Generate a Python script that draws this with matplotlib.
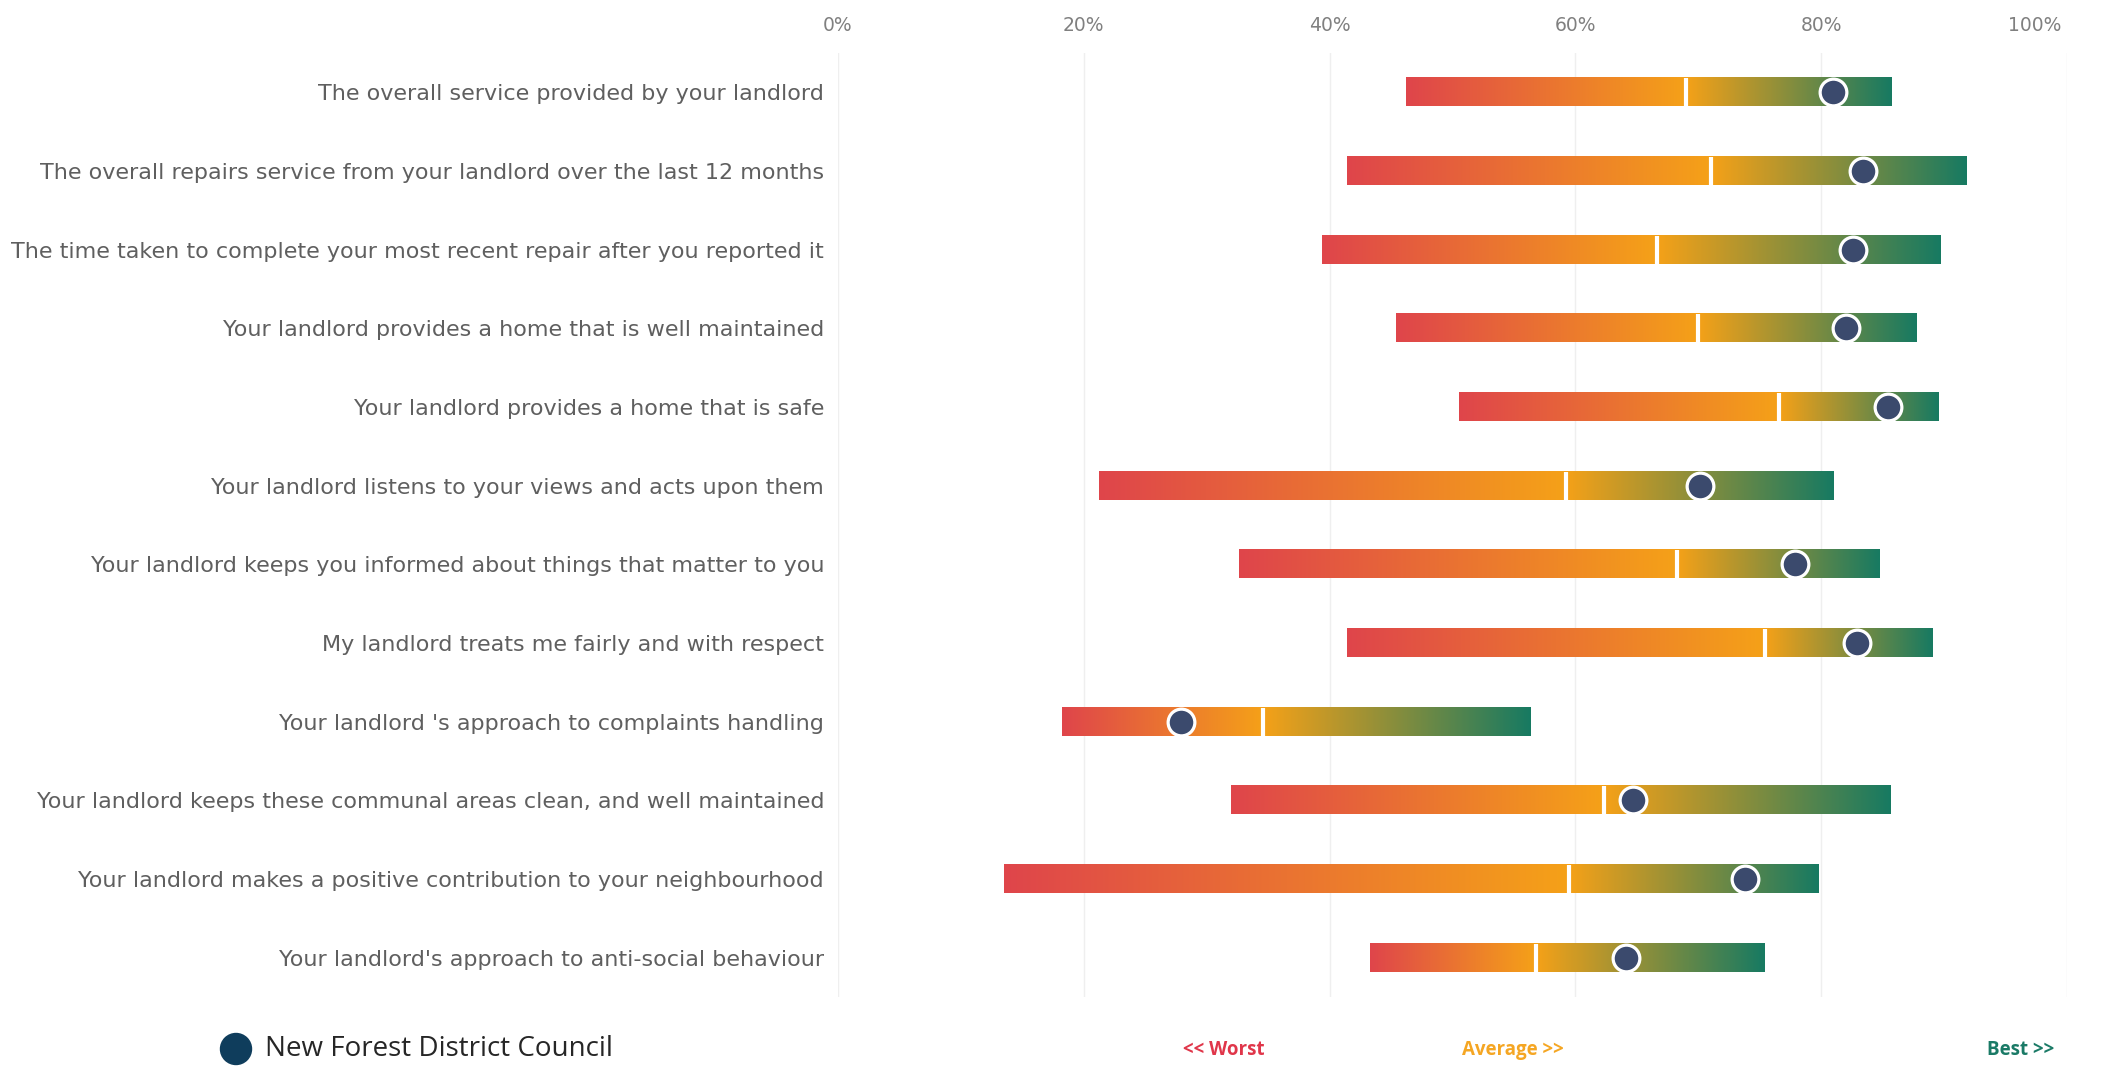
import numpy as np
import matplotlib
matplotlib.use("Agg")
import matplotlib.pyplot as plt
import matplotlib.transforms as mtransforms
from matplotlib.colors import LinearSegmentedColormap

categories = [
    "The overall service provided by your landlord",
    "The overall repairs service from your landlord over the last 12 months",
    "The time taken to complete your most recent repair after you reported it",
    "Your landlord provides a home that is well maintained",
    "Your landlord provides a home that is safe",
    "Your landlord listens to your views and acts upon them",
    "Your landlord keeps you informed about things that matter to you",
    "My landlord treats me fairly and with respect",
    "Your landlord 's approach to complaints handling",
    "Your landlord keeps these communal areas clean, and well maintained",
    "Your landlord makes a positive contribution to your neighbourhood",
    "Your landlord's approach to anti-social behaviour",
]
worst = [46.2, 41.4, 39.4, 45.4, 50.5, 21.2, 32.6, 41.4, 18.2, 32.0, 13.5, 43.3]
average = [69.0, 71.0, 66.6, 70.0, 76.6, 59.2, 68.3, 75.4, 34.6, 62.3, 59.5, 56.8]
best = [85.7, 91.8, 89.7, 87.8, 89.6, 81.0, 84.8, 89.0, 56.4, 85.6, 79.8, 75.4]
council = [81.0, 83.4, 82.6, 82.0, 85.4, 70.1, 77.9, 82.9, 27.9, 64.7, 73.8, 64.1]
xticks = [0, 20, 40, 60, 80, 100]
xticklabels = ["0%", "20%", "40%", "60%", "80%", "100%"]
legend_label = "New Forest District Council"

RED = "#df454b"
ORANGE = "#f5a118"
GREEN = "#177a62"
DOT = "#3b4a6d"

W, H = 2101, 1074
fig = plt.figure(figsize=(W / 100, H / 100), dpi=100)
left = 838 / W
right = 2067 / W
top = 1 - 53 / H
bottom = 1 - 997 / H
ax = fig.add_axes([left, bottom, right - left, top - bottom])

cmap_left = LinearSegmentedColormap.from_list("l", [RED, ORANGE])
cmap_right = LinearSegmentedColormap.from_list("r", [ORANGE, GREEN])
grad = np.linspace(0, 1, 256).reshape(1, -1)

n = len(categories)
ypos = np.arange(n)
bh = 0.36

for gx in xticks:
    ax.axvline(gx, color="#efefef", lw=1.0, zorder=0)

for i in range(n):
    y = ypos[i]
    ax.imshow(grad, cmap=cmap_left, aspect="auto",
              extent=[worst[i], average[i], y + bh / 2, y - bh / 2], zorder=2,
              interpolation="bilinear")
    ax.imshow(grad, cmap=cmap_right, aspect="auto",
              extent=[average[i], best[i], y + bh / 2, y - bh / 2], zorder=2,
              interpolation="bilinear")
    ax.plot([average[i], average[i]], [y - bh / 2, y + bh / 2],
            color="white", lw=3, zorder=3, solid_capstyle="butt")

ax.scatter(council, ypos, s=370, color=DOT, edgecolor="white",
           linewidth=2.3, zorder=5)

ax.set_xlim(0, 100)
ax.set_ylim(n - 0.5, -0.5)
ax.set_yticks(ypos)
ax.set_yticklabels(categories)
ax.set_xticks(xticks)
ax.set_xticklabels(xticklabels)
ax.xaxis.tick_top()
ax.tick_params(axis="x", length=0, pad=13, labelsize=13.5, labelcolor="#808080")
ax.tick_params(axis="y", length=0, pad=10, labelsize=16, labelcolor="#5f5f5f")
for lab in ax.get_xticklabels() + ax.get_yticklabels():
    lab.set_family("DejaVu Sans")
last = ax.get_xticklabels()[-1]
last.set_horizontalalignment("right")
last.set_transform(last.get_transform() + mtransforms.ScaledTranslation(-6 / 100, 0, fig.dpi_scale_trans))
for s in ax.spines.values():
    s.set_visible(False)

# legend
fig.patches.append(matplotlib.patches.Ellipse((236 / W, 1 - 1049 / H), 31 / W, 31 / H,
                                              transform=fig.transFigure,
                                              color="#0f3d5c", zorder=5))
fig.text(265 / W, 1 - 1049 / H, legend_label, ha="left", va="center",
         fontsize=20, color="#262626", family="Open Sans")
fig.text(1224 / W, 1 - 1050 / H, "<< Worst", ha="center", va="center",
         fontsize=13.5, color="#e0364a", fontweight="bold", family="Open Sans")
fig.text(1513 / W, 1 - 1050 / H, "Average >>", ha="center", va="center",
         fontsize=13.5, color="#f5a623", fontweight="bold", family="Open Sans")
fig.text(2021 / W, 1 - 1050 / H, "Best >>", ha="center", va="center",
         fontsize=13.5, color="#1a7a66", fontweight="bold", family="Open Sans")

fig.savefig("out.png", dpi=100, facecolor="white")
